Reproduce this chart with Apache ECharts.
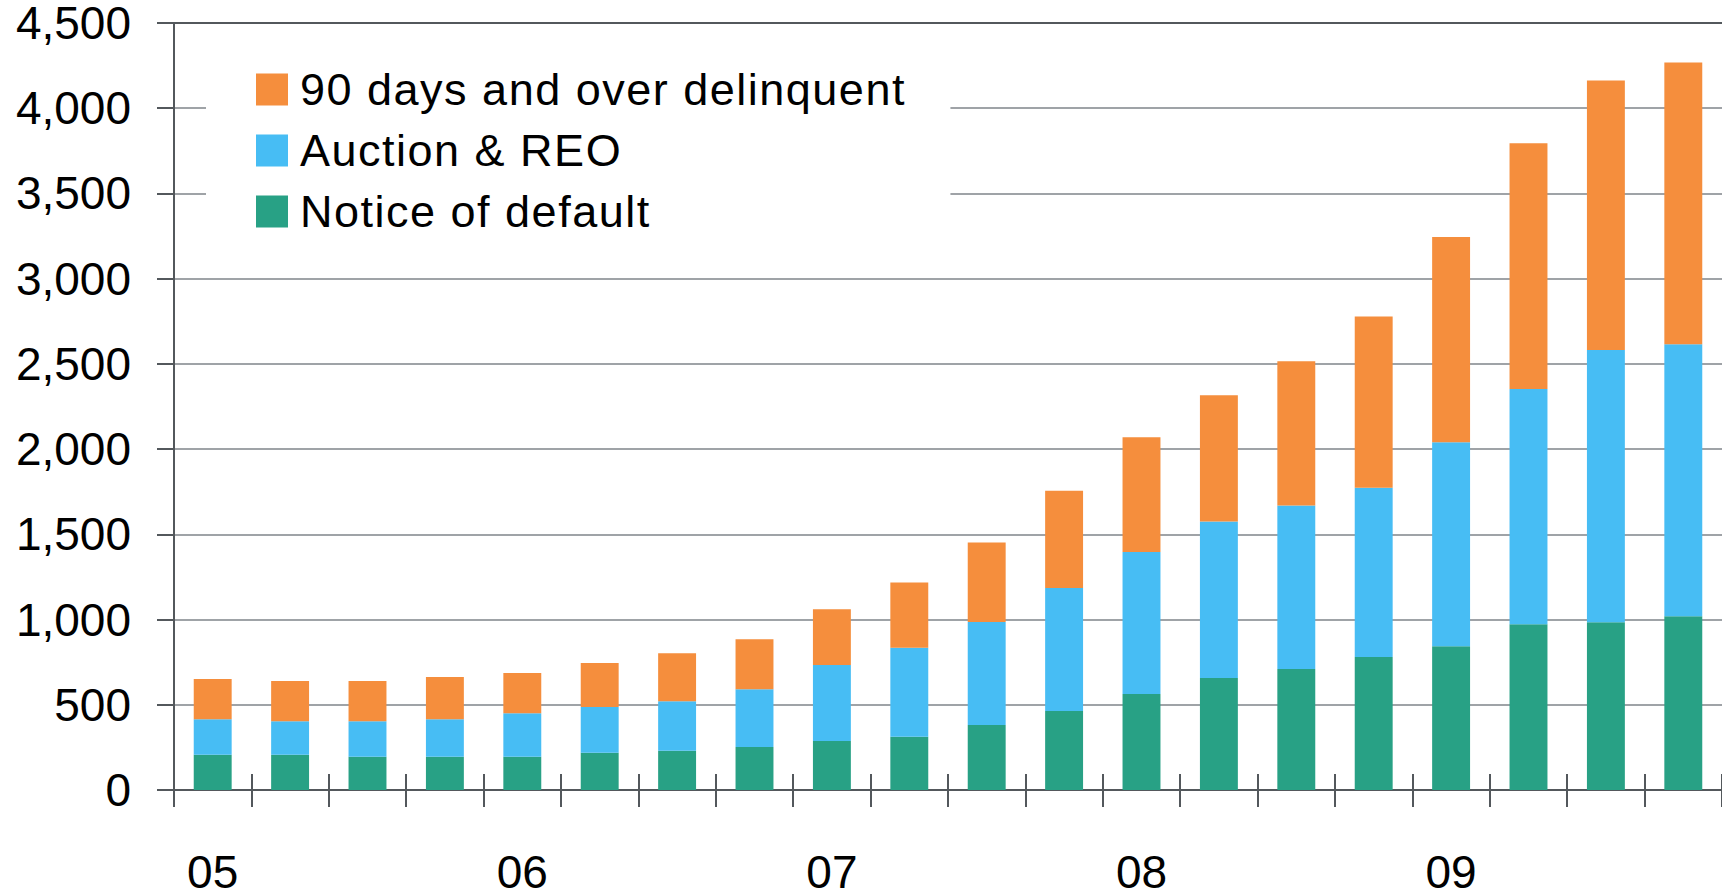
<!DOCTYPE html>
<html lang="en">
<head>
    <meta charset="UTF-8">
    <title>Foreclosure pipeline</title>
    <script src="https://cdn.jsdelivr.net/npm/echarts@6/dist/echarts.min.js"></script>
    <style>
        html, body { margin: 0; padding: 0; background: #fff; overflow: hidden; }
        #chart { width: 1722px; height: 895px; overflow: hidden; }
        #chart svg { display: block; }
    </style>
</head>
<body>
    <div id="chart"></div>
    <script>
        // quarters 2005 Q1 .. 2009 Q4, only the year is shown on the axis
        var quarters = [
            '05 Q1', '05 Q2', '05 Q3', '05 Q4',
            '06 Q1', '06 Q2', '06 Q3', '06 Q4',
            '07 Q1', '07 Q2', '07 Q3', '07 Q4',
            '08 Q1', '08 Q2', '08 Q3', '08 Q4',
            '09 Q1', '09 Q2', '09 Q3', '09 Q4'
        ];

        var noticeOfDefault = [207, 207, 195, 195, 195, 218, 230, 253, 288, 312,
                               382, 464, 563, 657, 710, 780, 844, 973, 984, 1019];
        var auctionReo      = [208, 196, 208, 220, 255, 269, 290, 338, 445, 522,
                               604, 721, 833, 918, 959, 994, 1196, 1379, 1598, 1596];
        var delinquent90    = [236, 236, 236, 248, 236, 258, 283, 294, 327, 384,
                               466, 571, 673, 741, 846, 1004, 1205, 1443, 1581, 1653];

        var legendNames = ['90 days and over delinquent', 'Auction & REO', 'Notice of default'];
        var yTicks = [0, 500, 1000, 1500, 2000, 2500, 3000, 3500, 4000, 4500];

        var font = "'Liberation Sans', Arial, Helvetica, sans-serif";
        var axisDark = '#53585c';
        var gridGray = '#9fa3a7';

        // top border (4,500) is dark like the axes, the rest are light gray
        var splitColors = yTicks.map(function (t, i) {
            return i === yTicks.length - 1 ? axisDark : gridGray;
        });

        var chart = echarts.init(document.getElementById('chart'), null, { renderer: 'svg' });

        var option = {
            backgroundColor: '#ffffff',
            animation: false,
            grid: {
                left: 174,
                top: 23,
                width: 1552,   // last boundary tick falls just past the right edge
                bottom: 101,
                containLabel: false
            },
            legend: {
                orient: 'vertical',
                left: 206,
                top: 37,
                // right padding also covers the letter spacing added below
                padding: [30, 85, 24, 50],
                backgroundColor: '#ffffff',
                itemWidth: 32,
                itemHeight: 32,
                itemGap: 16,
                icon: 'rect',
                data: legendNames,
                textStyle: {
                    fontFamily: font,
                    fontSize: 45,
                    lineHeight: 45,
                    color: '#000',
                    padding: [0, 0, 0, 7]
                }
            },
            xAxis: [
                {
                    type: 'category',
                    data: quarters,
                    position: 'bottom',
                    boundaryGap: true,
                    axisLine: { lineStyle: { color: axisDark, width: 2 } },
                    axisTick: {
                        show: true,
                        interval: 0,
                        length: 17,
                        lineStyle: { color: axisDark, width: 2 }
                    },
                    axisLabel: {
                        interval: 3,
                        margin: 59,
                        fontFamily: font,
                        fontSize: 46,
                        color: '#000',
                        formatter: function (v) { return v.slice(0, 2); }
                    },
                    splitLine: { show: false }
                },
                {
                    // second copy only for the half of the ticks above the axis
                    type: 'category',
                    data: quarters,
                    position: 'bottom',
                    boundaryGap: true,
                    axisLine: { show: false },
                    axisTick: {
                        show: true,
                        inside: true,
                        interval: 0,
                        length: 16,
                        lineStyle: { color: axisDark, width: 2 }
                    },
                    axisLabel: { show: false },
                    splitLine: { show: false }
                }
            ],
            yAxis: {
                type: 'value',
                min: 0,
                max: 4500,
                interval: 500,
                axisLine: { show: true, lineStyle: { color: axisDark, width: 2 } },
                axisTick: { show: true, length: 17, lineStyle: { color: axisDark, width: 2 } },
                axisLabel: {
                    margin: 43,
                    fontFamily: font,
                    fontSize: 46,
                    color: '#000',
                    formatter: function (v) { return v.toLocaleString('en-US'); }
                },
                splitLine: {
                    show: true,
                    lineStyle: { color: splitColors, width: 2 }
                }
            },
            series: [
                {
                    name: 'Notice of default',
                    type: 'bar',
                    stack: 'total',
                    barWidth: '49%',
                    data: noticeOfDefault,
                    itemStyle: { color: '#28a185' }
                },
                {
                    name: 'Auction & REO',
                    type: 'bar',
                    stack: 'total',
                    barWidth: '49%',
                    data: auctionReo,
                    itemStyle: { color: '#47bdf4' }
                },
                {
                    name: '90 days and over delinquent',
                    type: 'bar',
                    stack: 'total',
                    barWidth: '49%',
                    data: delinquent90,
                    itemStyle: { color: '#f58e3d' }
                }
            ]
        };

        chart.setOption(option);

        // legend text in the original is set a little wider than the axis labels
        var texts = document.querySelectorAll('#chart svg text');
        for (var i = 0; i < texts.length; i++) {
            if (legendNames.indexOf(texts[i].textContent) >= 0) {
                texts[i].setAttribute('letter-spacing', '1.5');
            }
        }
    </script>
</body>
</html>
